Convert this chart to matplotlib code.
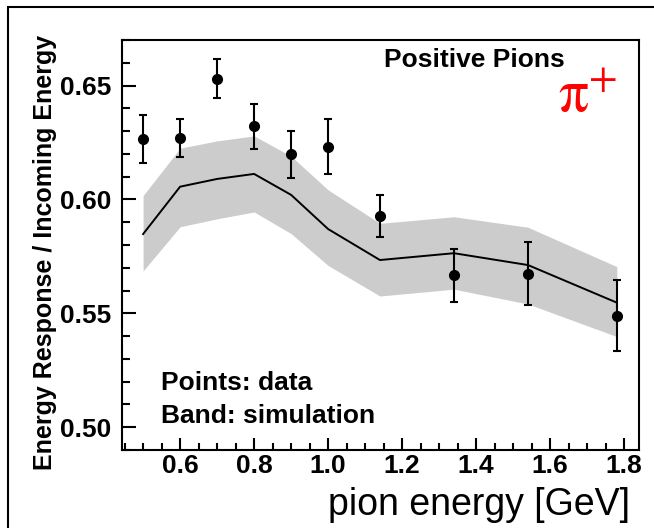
import numpy as np
import matplotlib.pyplot as plt
from matplotlib.patches import Rectangle
from matplotlib.ticker import MultipleLocator, FormatStrFormatter

plt.rcParams['font.family'] = ['Liberation Sans', 'DejaVu Sans']
plt.rcParams['mathtext.fontset'] = 'stix'

# data points (measured)
energy = [0.50, 0.60, 0.70, 0.80, 0.90, 1.00, 1.14, 1.34, 1.54, 1.78]
response = [0.6264, 0.6268, 0.6530, 0.6322, 0.6198, 0.6232, 0.5927, 0.5667, 0.5673, 0.5490]
response_err = [0.0105, 0.0083, 0.0085, 0.0099, 0.0103, 0.0122, 0.0093, 0.0116, 0.0138, 0.0157]

# simulation: central line and band
sim_mid = [0.5848, 0.6056, 0.6090, 0.6112, 0.6020, 0.5870, 0.5734, 0.5764, 0.5712, 0.5547]
sim_hi = [0.6017, 0.6225, 0.6257, 0.6279, 0.6190, 0.6042, 0.5895, 0.5924, 0.5878, 0.5705]
sim_lo = [0.5686, 0.5880, 0.5915, 0.5945, 0.5850, 0.5710, 0.5576, 0.5606, 0.5541, 0.5398]

W, H = 654, 528
fig = plt.figure(figsize=(W / 100, H / 100), dpi=100)
ax = fig.add_axes([122 / W, 1 - 450 / H, (639 - 122) / W, (450 - 40) / H])

# outer frame of the canvas (runs off the right and bottom edges)
fig.patches.append(Rectangle((8 / W, -0.5), 2.0, 0.5 + (1 - 7 / H),
                             transform=fig.transFigure, fill=False,
                             edgecolor='black', linewidth=1.5, clip_on=False))

ax.fill_between(energy, sim_lo, sim_hi, color='#cccccc', linewidth=0, zorder=1)
ax.plot(energy, sim_mid, color='black', linewidth=1.4, zorder=2)
ax.errorbar(energy, response, yerr=response_err, fmt='o', color='black',
            markersize=7, elinewidth=1.5, capsize=3, capthick=1.5, zorder=3)

ax.set_xlim(0.443, 1.84)
ax.set_ylim(0.49, 0.67)
ax.xaxis.set_major_locator(MultipleLocator(0.2))
ax.xaxis.set_minor_locator(MultipleLocator(0.05))
ax.yaxis.set_major_locator(MultipleLocator(0.05))
ax.yaxis.set_minor_locator(MultipleLocator(0.01))
ax.xaxis.set_major_formatter(FormatStrFormatter('%.1f'))
ax.yaxis.set_major_formatter(FormatStrFormatter('%.2f'))

ax.tick_params(which='both', direction='in', top=False, right=False, width=1.5)
ax.tick_params(axis='y', which='major', length=10, pad=8, labelsize=19)
ax.tick_params(axis='y', which='minor', length=6)
ax.tick_params(axis='x', which='major', length=9, pad=3, labelsize=19)
ax.tick_params(axis='x', which='minor', length=5)
for lab in ax.get_xticklabels() + ax.get_yticklabels():
    lab.set_fontweight('bold')
for sp in ax.spines.values():
    sp.set_linewidth(1.5)

fig.text(45 / W, 1 - 252 / H, 'Energy Response / Incoming Energy', fontsize=18,
         fontweight='bold', rotation=90, ha='center', va='center')
fig.text(630 / W, 1 - 505 / H, 'pion energy [GeV]', fontsize=27,
         ha='right', va='center')

ax.text(0.681, 0.951, 'Positive Pions', transform=ax.transAxes, fontsize=19,
        fontweight='bold', ha='center', va='center')
ax.text(0.90, 0.861, r'$\mathrm{\pi}^{+}$', transform=ax.transAxes, fontsize=43,
        color='red', ha='center', va='center')
ax.text(0.0754, 0.163, 'Points: data', transform=ax.transAxes, fontsize=19,
        fontweight='bold', ha='left', va='center')
ax.text(0.0754, 0.083, 'Band: simulation', transform=ax.transAxes, fontsize=19,
        fontweight='bold', ha='left', va='center')

fig.savefig('out.png', dpi=100)
